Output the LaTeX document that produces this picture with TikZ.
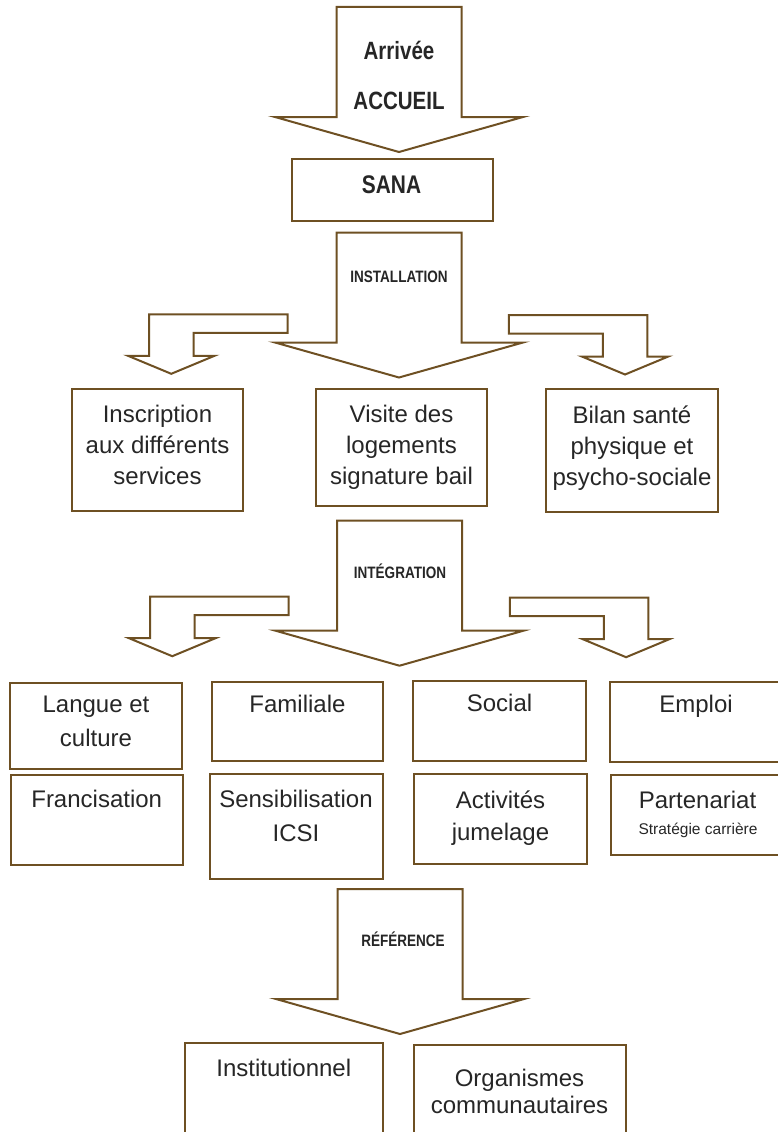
\documentclass[tikz,border=0pt]{standalone}
\usepackage{fontspec}
\setmainfont{Liberation Sans}
\newfontfamily\etroite{Liberation Sans}[FakeStretch=0.82]
\usetikzlibrary{positioning}
\definecolor{brun}{RGB}{110,80,35}
\definecolor{encre}{RGB}{38,38,38}
\tikzset{
  boite/.style={draw=brun, line width=2pt, inner sep=0pt, outer sep=0pt},
  fleche/.style={draw=brun, line width=2pt, fill=white, line join=miter},
  texte/.style={text=encre, align=center, inner sep=0pt,
    font=\fontsize{24}{31}\selectfont},
  titre/.style={text=encre, inner sep=0pt,
    font=\etroite\bfseries\fontsize{16.5}{20}\selectfont},
  grandtitre/.style={titre, font=\etroite\bfseries\fontsize{25}{30}\selectfont}
}
% big block arrow: centre x, top y
\newcommand{\grandeFleche}[2]{%
  \draw [fleche] (#1-62.5,#2) -- (#1+62.5,#2) -- (#1+62.5,#2+110) --
  (#1+124,#2+110) -- (#1,#2+145) -- (#1-124,#2+110) -- (#1-62.5,#2+110) --
  cycle;}
% bent block arrow: side (1 left, -1 right), outer x, top y
\newcommand{\flecheCoude}[3]{%
  \draw [fleche, shift={(#2,#3)}, xscale=#1] (0,0) -- (138.5,0) --
  (138.5,18.5) -- (44.5,18.5) -- (44.5,41.5) -- (65.5,41.5) --
  (22.25,59.5) -- (-21,41.5) -- (0,41.5) -- cycle;}

\begin{document}
\begin{tikzpicture}[x=1pt, y=-1pt]
  \useasboundingbox (0,0) rectangle (777,1132);%

  % Arrivee
  \grandeFleche{399}{7}%
  \node [grandtitre] (arrivee) at (399,50.5) {Arrivée};%
  \node [grandtitre] (accueil) at (399,101) {ACCUEIL};%
  \node [boite, minimum width=201pt, minimum height=62pt] (sana) at
  (392.5,190) {};%
  \node [grandtitre, font=\etroite\bfseries\fontsize{25.5}{30}\selectfont]
  (sanaT) at (391.5,184.5) {SANA};%

  % Installation
  \grandeFleche{399}{232.5}%
  \node [titre] (install) at (399,277.2) {INSTALLATION};%
  \flecheCoude{1}{149}{314.3}%
  \flecheCoude{-1}{647.3}{315}%
  % -- services
  \node [boite, minimum width=171pt, minimum height=122pt] (inscr) at
  (157.5,450) {};%
  \node [texte] (inscrT) at (157.5,445.2) {Inscription\\aux différents\\services};%
  \node [boite, minimum width=171pt, minimum height=117pt] (visite) at
  (401.5,447.5) {};%
  \node [texte] (visiteT) at (401.5,447.7) {Visite des\\logements\\signature bail};%
  \node [boite, minimum width=172pt, minimum height=123pt] (bilan) at
  (632,450.5) {};%
  \node [texte] (bilanT) at (632,447.7) {Bilan santé\\physique et\\psycho-sociale};%

  % Integration
  \grandeFleche{399.5}{520.7}%
  \node [titre] (integr) at (400,571) {INTÉGRATION};%
  \flecheCoude{1}{150}{596.7}%
  \flecheCoude{-1}{648.3}{597.7}%
  % -- first row
  \node [boite, minimum width=172pt, minimum height=86pt] (langue) at
  (96,726) {};%
  \node [texte, font=\fontsize{24}{34}\selectfont] (langueT) at (96,721.5)
  {Langue et\\culture};%
  \node [boite, minimum width=171pt, minimum height=79pt] (famil) at
  (297.5,721.5) {};%
  \node [texte] (familT) at (297.5,704) {Familiale};%
  \node [boite, minimum width=173pt, minimum height=80pt] (social) at
  (499.5,721) {};%
  \node [texte] (socialT) at (499.5,703.3) {Social};%
  \node [boite, minimum width=172pt, minimum height=80pt] (emploi) at
  (696,722) {};%
  \node [texte] (emploiT) at (696,706.3) {Emploi};%
  % -- second row
  \node [boite, minimum width=172pt, minimum height=90pt] (franc) at
  (97,820) {};%
  \node [texte] (francT) at (96.7,798.7) {Francisation};%
  \node [boite, minimum width=173pt, minimum height=105pt] (sensib) at
  (296.5,826.5) {};%
  \node [texte, font=\fontsize{24}{34}\selectfont] (sensibT) at (296,816)
  {Sensibilisation\\ICSI};%
  \node [boite, minimum width=173pt, minimum height=90pt] (activ) at
  (500.5,819) {};%
  \node [texte, font=\fontsize{24}{32}\selectfont] (activT) at (500.5,818)
  {Activités\\jumelage};%
  \node [boite, minimum width=171pt, minimum height=80pt] (parten) at
  (696.5,815) {};%
  \node [texte] (partenT) at (697.5,800) {Partenariat};%
  \node [texte, font=\fontsize{15.5}{18}\selectfont] (strat) at (698,830)
  {Stratégie carrière};%

  % Reference
  \grandeFleche{400}{889}%
  \node [titre] (refer) at (403,939.7) {RÉFÉRENCE};%
  \node [boite, minimum width=198pt, minimum height=97pt] (instit) at
  (284,1091.5) {};%
  \node [texte] (institT) at (283.8,1068.3) {Institutionnel};%
  \node [boite, minimum width=212pt, minimum height=95pt] (organ) at
  (520,1092.5) {};%
  \node [texte, font=\fontsize{24}{27}\selectfont] (organT) at (519.5,1091.5)
  {Organismes\\communautaires};%
\end{tikzpicture}
\end{document}
